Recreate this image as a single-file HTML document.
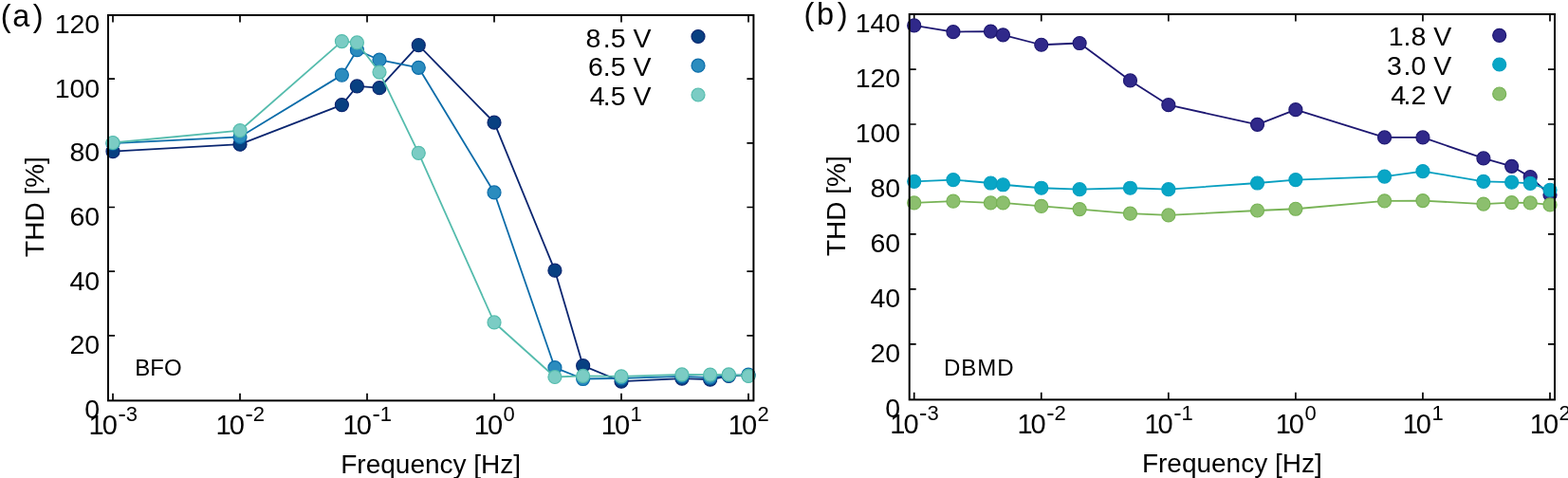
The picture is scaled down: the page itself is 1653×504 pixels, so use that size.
<!DOCTYPE html>
<html><head><meta charset="utf-8"><style>
html,body{margin:0;padding:0;background:#fff;width:1653px;height:504px;overflow:hidden}
svg{display:block}
text{font-family:"Liberation Sans", "DejaVu Sans", sans-serif;fill:#000}
.tl{font-size:28.5px}
.xl{font-size:29px}
.sup{font-size:22px}
.mn{font-size:25px}
.al{font-size:28px}
.lg{font-size:28.5px}
.pl{font-size:32.5px}
.sl{font-size:24px}
</style></head><body>
<svg width="1653" height="504" viewBox="0 0 1653 504">
<rect width="1653" height="504" fill="#fff"/>
<path d="M119 422.4V414.8M119 16V23.6M253 422.4V414.8M253 16V23.6M387 422.4V414.8M387 16V23.6M521 422.4V414.8M521 16V23.6M655 422.4V414.8M655 16V23.6M789 422.4V414.8M789 16V23.6M114 353.83H121M794.4 353.83H787.4M114 286.17H121M794.4 286.17H787.4M114 218.5H121M794.4 218.5H787.4M114 150.84H121M794.4 150.84H787.4M114 83.17H121M794.4 83.17H787.4" stroke="#000" stroke-width="1.7" fill="none"/>
<polyline points="119,159.63 253,152.19 360.39,110.57 376.39,90.95 399.99,92.64 441.25,47.65 521,129.18 584.93,285.15 614.66,385.64 655,402.22 718.93,399.17 748.66,400.19 768.24,396.46 789,395.79" stroke="#0a2670" stroke-width="1.8" fill="none" stroke-linejoin="round"/>
<g fill="#084081" stroke="#0a2670" stroke-width="1.2"><circle cx="119" cy="159.63" r="7.0"/><circle cx="253" cy="152.19" r="7.0"/><circle cx="360.39" cy="110.57" r="7.0"/><circle cx="376.39" cy="90.95" r="7.0"/><circle cx="399.99" cy="92.64" r="7.0"/><circle cx="441.25" cy="47.65" r="7.0"/><circle cx="521" cy="129.18" r="7.0"/><circle cx="584.93" cy="285.15" r="7.0"/><circle cx="614.66" cy="385.64" r="7.0"/><circle cx="655" cy="402.22" r="7.0"/><circle cx="718.93" cy="399.17" r="7.0"/><circle cx="748.66" cy="400.19" r="7.0"/><circle cx="768.24" cy="396.46" r="7.0"/><circle cx="789" cy="395.79" r="7.0"/></g>
<polyline points="119,151.17 253,144.41 360.39,79.11 376.39,52.72 399.99,63.21 441.25,71.33 521,202.94 584.93,387.67 614.66,399.51 655,398.83 718.93,396.8 748.66,398.16 768.24,395.79 789,395.11" stroke="#0b6ca9" stroke-width="1.8" fill="none" stroke-linejoin="round"/>
<g fill="#2b8cbe" stroke="#0b6ca9" stroke-width="1.2"><circle cx="119" cy="151.17" r="7.0"/><circle cx="253" cy="144.41" r="7.0"/><circle cx="360.39" cy="79.11" r="7.0"/><circle cx="376.39" cy="52.72" r="7.0"/><circle cx="399.99" cy="63.21" r="7.0"/><circle cx="441.25" cy="71.33" r="7.0"/><circle cx="521" cy="202.94" r="7.0"/><circle cx="584.93" cy="387.67" r="7.0"/><circle cx="614.66" cy="399.51" r="7.0"/><circle cx="655" cy="398.83" r="7.0"/><circle cx="718.93" cy="396.8" r="7.0"/><circle cx="748.66" cy="398.16" r="7.0"/><circle cx="768.24" cy="395.79" r="7.0"/><circle cx="789" cy="395.11" r="7.0"/></g>
<polyline points="119,150.5 253,137.64 360.39,43.59 376.39,44.94 399.99,76.07 441.25,161.32 521,339.96 584.93,397.48 614.66,396.46 655,396.8 718.93,394.94 748.66,395.11 768.24,394.94 789,396.46" stroke="#55bcad" stroke-width="1.8" fill="none" stroke-linejoin="round"/>
<g fill="#7bccc4" stroke="#55bcad" stroke-width="1.2"><circle cx="119" cy="150.5" r="7.0"/><circle cx="253" cy="137.64" r="7.0"/><circle cx="360.39" cy="43.59" r="7.0"/><circle cx="376.39" cy="44.94" r="7.0"/><circle cx="399.99" cy="76.07" r="7.0"/><circle cx="441.25" cy="161.32" r="7.0"/><circle cx="521" cy="339.96" r="7.0"/><circle cx="584.93" cy="397.48" r="7.0"/><circle cx="614.66" cy="396.46" r="7.0"/><circle cx="655" cy="396.8" r="7.0"/><circle cx="718.93" cy="394.94" r="7.0"/><circle cx="748.66" cy="395.11" r="7.0"/><circle cx="768.24" cy="394.94" r="7.0"/><circle cx="789" cy="396.46" r="7.0"/></g>
<rect x="114" y="16" width="680.4" height="406.4" stroke="#000" stroke-width="2.0" fill="none"/>
<text x="105.2" y="440.9" text-anchor="end" class="tl">0</text>
<text x="105.2" y="373.23" text-anchor="end" class="tl">20</text>
<text x="105.2" y="305.57" text-anchor="end" class="tl">40</text>
<text x="105.2" y="237.9" text-anchor="end" class="tl">60</text>
<text x="105.2" y="170.24" text-anchor="end" class="tl">80</text>
<text x="105.2" y="102.57" text-anchor="end" class="tl">100</text>
<text x="105.2" y="34.9" text-anchor="end" class="tl">120</text>
<text x="119.3" y="457.7" text-anchor="middle" class="xl">1<tspan dx="-2">0</tspan><tspan class="mn" dx="0.5" dy="-12.7">-</tspan><tspan class="sup" dy="-1">3</tspan></text>
<text x="253.3" y="457.7" text-anchor="middle" class="xl">1<tspan dx="-2">0</tspan><tspan class="mn" dx="0.5" dy="-12.7">-</tspan><tspan class="sup" dy="-1">2</tspan></text>
<text x="387.3" y="457.7" text-anchor="middle" class="xl">1<tspan dx="-2">0</tspan><tspan class="mn" dx="0.5" dy="-12.7">-</tspan><tspan class="sup" dy="-1">1</tspan></text>
<text x="521.3" y="457.7" text-anchor="middle" class="xl">1<tspan dx="-2">0</tspan><tspan class="sup" dx="0.5" dy="-13.7">0</tspan></text>
<text x="655.3" y="457.7" text-anchor="middle" class="xl">1<tspan dx="-2">0</tspan><tspan class="sup" dx="0.5" dy="-13.7">1</tspan></text>
<text x="789.3" y="457.7" text-anchor="middle" class="xl">1<tspan dx="-2">0</tspan><tspan class="sup" dx="0.5" dy="-13.7">2</tspan></text>
<text x="454.2" y="499" text-anchor="middle" class="al">Frequency [Hz]</text>
<text transform="translate(45.8 218) rotate(-90)" text-anchor="middle" class="al">THD [%]</text>
<text x="686.5" y="49.5" text-anchor="end" class="lg">8<tspan dx="2.5">.5 V</tspan></text>
<circle cx="736" cy="38.5" r="7.0" fill="#084081" stroke="#0a2670" stroke-width="1.2"/>
<text x="686.5" y="80.3" text-anchor="end" class="lg">6.5 V</text>
<circle cx="736" cy="69.2" r="7.0" fill="#2b8cbe" stroke="#0b6ca9" stroke-width="1.2"/>
<text x="686.5" y="111.3" text-anchor="end" class="lg">4<tspan dx="-1.8">.5 V</tspan></text>
<circle cx="736" cy="100" r="7.0" fill="#7bccc4" stroke="#55bcad" stroke-width="1.2"/>
<text x="0.8" y="28.1" class="pl">(<tspan dx="1.6">a</tspan><tspan dx="3.4">)</tspan></text>
<text x="142.3" y="395.7" class="sl" letter-spacing="0">BFO</text>
<path d="M963.7 421.4V413.8M963.7 15V22.6M1097.76 421.4V413.8M1097.76 15V22.6M1231.82 421.4V413.8M1231.82 15V22.6M1365.88 421.4V413.8M1365.88 15V22.6M1499.94 421.4V413.8M1499.94 15V22.6M1634 421.4V413.8M1634 15V22.6M958.7 362.84H965.7M1639 362.84H1632M958.7 304.88H965.7M1639 304.88H1632M958.7 246.92H965.7M1639 246.92H1632M958.7 188.96H965.7M1639 188.96H1632M958.7 131H965.7M1639 131H1632M958.7 73.04H965.7M1639 73.04H1632" stroke="#000" stroke-width="1.7" fill="none"/>
<polyline points="963.7,26.96 1004.92,33.63 1044.41,33.05 1057.4,36.81 1097.76,47.25 1138.12,45.51 1191.46,84.92 1231.82,110.71 1325.52,131.29 1365.88,115.64 1459.58,144.91 1499.94,144.91 1563.9,166.94 1593.64,175.34 1613.23,186.64 1634,205.48" stroke="#1e1872" stroke-width="1.8" fill="none" stroke-linejoin="round"/>
<g fill="#30298a" stroke="#1e1872" stroke-width="1.2"><circle cx="963.7" cy="26.96" r="7.0"/><circle cx="1004.92" cy="33.63" r="7.0"/><circle cx="1044.41" cy="33.05" r="7.0"/><circle cx="1057.4" cy="36.81" r="7.0"/><circle cx="1097.76" cy="47.25" r="7.0"/><circle cx="1138.12" cy="45.51" r="7.0"/><circle cx="1191.46" cy="84.92" r="7.0"/><circle cx="1231.82" cy="110.71" r="7.0"/><circle cx="1325.52" cy="131.29" r="7.0"/><circle cx="1365.88" cy="115.64" r="7.0"/><circle cx="1459.58" cy="144.91" r="7.0"/><circle cx="1499.94" cy="144.91" r="7.0"/><circle cx="1563.9" cy="166.94" r="7.0"/><circle cx="1593.64" cy="175.34" r="7.0"/><circle cx="1613.23" cy="186.64" r="7.0"/><circle cx="1634" cy="205.48" r="7.0"/></g>
<polyline points="963.7,191.28 1004.92,189.54 1044.41,193.02 1057.4,194.76 1097.76,198.23 1138.12,199.68 1191.46,198.23 1231.82,199.68 1325.52,193.02 1365.88,189.54 1459.58,186.06 1499.94,180.56 1563.9,191.28 1593.64,192.15 1613.23,193.31 1634,200.26" stroke="#079fc0" stroke-width="1.8" fill="none" stroke-linejoin="round"/>
<g fill="#08a6c6" stroke="#079fc0" stroke-width="1.2"><circle cx="963.7" cy="191.28" r="7.0"/><circle cx="1004.92" cy="189.54" r="7.0"/><circle cx="1044.41" cy="193.02" r="7.0"/><circle cx="1057.4" cy="194.76" r="7.0"/><circle cx="1097.76" cy="198.23" r="7.0"/><circle cx="1138.12" cy="199.68" r="7.0"/><circle cx="1191.46" cy="198.23" r="7.0"/><circle cx="1231.82" cy="199.68" r="7.0"/><circle cx="1325.52" cy="193.02" r="7.0"/><circle cx="1365.88" cy="189.54" r="7.0"/><circle cx="1459.58" cy="186.06" r="7.0"/><circle cx="1499.94" cy="180.56" r="7.0"/><circle cx="1563.9" cy="191.28" r="7.0"/><circle cx="1593.64" cy="192.15" r="7.0"/><circle cx="1613.23" cy="193.31" r="7.0"/><circle cx="1634" cy="200.26" r="7.0"/></g>
<polyline points="963.7,213.88 1004.92,212.14 1044.41,213.88 1057.4,213.88 1097.76,217.36 1138.12,220.55 1191.46,225.19 1231.82,226.92 1325.52,222 1365.88,220.26 1459.58,211.85 1499.94,211.56 1563.9,215.04 1593.64,213.59 1613.23,213.88 1634,215.91" stroke="#78b356" stroke-width="1.8" fill="none" stroke-linejoin="round"/>
<g fill="#8cbf6e" stroke="#78b356" stroke-width="1.2"><circle cx="963.7" cy="213.88" r="7.0"/><circle cx="1004.92" cy="212.14" r="7.0"/><circle cx="1044.41" cy="213.88" r="7.0"/><circle cx="1057.4" cy="213.88" r="7.0"/><circle cx="1097.76" cy="217.36" r="7.0"/><circle cx="1138.12" cy="220.55" r="7.0"/><circle cx="1191.46" cy="225.19" r="7.0"/><circle cx="1231.82" cy="226.92" r="7.0"/><circle cx="1325.52" cy="222" r="7.0"/><circle cx="1365.88" cy="220.26" r="7.0"/><circle cx="1459.58" cy="211.85" r="7.0"/><circle cx="1499.94" cy="211.56" r="7.0"/><circle cx="1563.9" cy="215.04" r="7.0"/><circle cx="1593.64" cy="213.59" r="7.0"/><circle cx="1613.23" cy="213.88" r="7.0"/><circle cx="1634" cy="215.91" r="7.0"/></g>
<rect x="958.7" y="15" width="680.3" height="406.4" stroke="#000" stroke-width="2.0" fill="none"/>
<text x="949.2" y="440.2" text-anchor="end" class="tl">0</text>
<text x="949.2" y="382.24" text-anchor="end" class="tl">20</text>
<text x="949.2" y="324.28" text-anchor="end" class="tl">40</text>
<text x="949.2" y="266.32" text-anchor="end" class="tl">60</text>
<text x="949.2" y="208.36" text-anchor="end" class="tl">80</text>
<text x="949.2" y="150.4" text-anchor="end" class="tl">100</text>
<text x="949.2" y="92.44" text-anchor="end" class="tl">120</text>
<text x="949.2" y="34.48" text-anchor="end" class="tl">140</text>
<text x="964" y="456.7" text-anchor="middle" class="xl">1<tspan dx="-2">0</tspan><tspan class="mn" dx="0.5" dy="-12.7">-</tspan><tspan class="sup" dy="-1">3</tspan></text>
<text x="1098.06" y="456.7" text-anchor="middle" class="xl">1<tspan dx="-2">0</tspan><tspan class="mn" dx="0.5" dy="-12.7">-</tspan><tspan class="sup" dy="-1">2</tspan></text>
<text x="1232.12" y="456.7" text-anchor="middle" class="xl">1<tspan dx="-2">0</tspan><tspan class="mn" dx="0.5" dy="-12.7">-</tspan><tspan class="sup" dy="-1">1</tspan></text>
<text x="1366.18" y="456.7" text-anchor="middle" class="xl">1<tspan dx="-2">0</tspan><tspan class="sup" dx="0.5" dy="-13.7">0</tspan></text>
<text x="1500.24" y="456.7" text-anchor="middle" class="xl">1<tspan dx="-2">0</tspan><tspan class="sup" dx="0.5" dy="-13.7">1</tspan></text>
<text x="1634.3" y="456.7" text-anchor="middle" class="xl">1<tspan dx="-2">0</tspan><tspan class="sup" dx="0.5" dy="-13.7">2</tspan></text>
<text x="1298.85" y="497.8" text-anchor="middle" class="al">Frequency [Hz]</text>
<text transform="translate(890.8 217.2) rotate(-90)" text-anchor="middle" class="al">THD [%]</text>
<text x="1530.3" y="48.2" text-anchor="end" class="lg">1.8 V</text>
<circle cx="1580.7" cy="37.3" r="7.0" fill="#30298a" stroke="#1e1872" stroke-width="1.2"/>
<text x="1530.3" y="79" text-anchor="end" class="lg">3<tspan dx="1.8">.0 V</tspan></text>
<circle cx="1580.7" cy="68" r="7.0" fill="#08a6c6" stroke="#079fc0" stroke-width="1.2"/>
<text x="1530.3" y="109.5" text-anchor="end" class="lg">4<tspan dx="-2.6">.2 V</tspan></text>
<circle cx="1580.7" cy="99" r="7.0" fill="#8cbf6e" stroke="#78b356" stroke-width="1.2"/>
<text x="847.5" y="26.3" class="pl">(<tspan dx="2.6">b</tspan><tspan dx="3.8">)</tspan></text>
<text x="995" y="395.7" class="sl" letter-spacing="1">DBMD</text>
</svg>
</body></html>
